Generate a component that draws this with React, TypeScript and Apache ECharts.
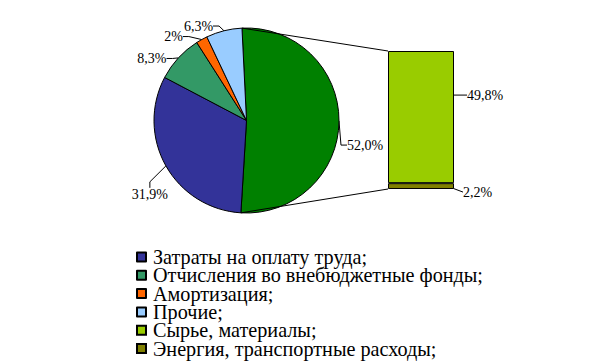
import React, { useEffect, useRef } from "react";
import * as echarts from "echarts";

// ---- data ----
const pieNames = [
  "Сырье, материалы и энергия",
  "Затраты на оплату труда;",
  "Отчисления во внебюджетные фонды;",
  "Амортизация;",
  "Прочие;",
];
const pieValues = [52.0, 31.9, 8.3, 2.0, 6.3];
const pieLabels = ["52,0%", "31,9%", "8,3%", "2%", "6,3%"];
const pieColors = ["#008000", "#333399", "#339966", "#FF6600", "#99CCFF"];

const barCategory = ["Сырье и энергия"];
const barNames = ["Энергия, транспортные расходы;", "Сырье, материалы;"];
const barValues = [2.2, 49.8];
const barLabels = ["2,2%", "49,8%"];
const barColors = ["#808000", "#99CC00"];

const legendOrder = [
  pieNames[1],
  pieNames[2],
  pieNames[3],
  pieNames[4],
  barNames[1],
  barNames[0],
];

// ---- layout (not data) ----
const PIE_CX = 246.5;
const PIE_CY = 120.5;
const PIE_R = 92.5;
const START_ANGLE = 92.8;
const pieLabelShift: [number, number][] = [
  [-11, 24],
  [20, 25],
  [5, 6],
  [-4, 4],
  [2, 3],
];
const barLabelShift: [number, number][] = [
  [4, 6],
  [8, -22],
];
const BAR_GRID = { left: 388, top: 51, width: 66, height: 138 };
const FONT = "'Liberation Serif', 'Times New Roman', serif";

const shifted = (shift: [number, number][]) => (p: any) => {
  const r = p.labelRect;
  const s = shift[p.dataIndex] || [0, 0];
  return { x: r.x + s[0], y: r.y + s[1], align: "left", verticalAlign: "top" };
};

export default function App() {
  const ref = useRef<HTMLDivElement>(null);
  useEffect(() => {
    if (!ref.current) return;
    const chart = echarts.init(ref.current, undefined, { renderer: "svg" });
    const barTotal = barValues.reduce((a, b) => a + b, 0);
    chart.setOption({
      animation: false,
      backgroundColor: "#fff",
      textStyle: { fontFamily: FONT },
      legend: {
        data: legendOrder,
        orient: "vertical",
        left: 136,
        top: 247,
        height: 200,
        padding: 0,
        itemWidth: 9,
        itemHeight: 9,
        itemGap: -1.7,
        icon: "rect",
        selectedMode: false,
        textStyle: {
          fontFamily: FONT,
          fontSize: 20.2,
          lineHeight: 18.7,
          color: "#000",
          padding: [0, 0, 0, 2],
        },
      },
      grid: { ...BAR_GRID },
      xAxis: { type: "category", data: barCategory, show: false },
      yAxis: { type: "value", min: 0, max: barTotal, show: false },
      series: [
        {
          type: "pie",
          center: [PIE_CX, PIE_CY],
          radius: PIE_R,
          startAngle: START_ANGLE,
          clockwise: true,
          avoidLabelOverlap: false,
          itemStyle: { borderColor: "#000", borderWidth: 1 },
          label: {
            show: true,
            position: "outside",
            formatter: (p: any) => pieLabels[p.dataIndex],
            color: "#000",
            fontFamily: FONT,
            fontSize: 14,
          },
          labelLine: {
            show: true,
            length: 8,
            length2: 6,
            lineStyle: { color: "#000", width: 1 },
          },
          labelLayout: shifted(pieLabelShift),
          emphasis: { disabled: true },
          data: pieValues.map((v, i) => ({
            name: pieNames[i],
            value: v,
            itemStyle: { color: pieColors[i] },
          })),
        },
        ...barValues.map((v, i) => ({
          type: "bar",
          name: barNames[i],
          stack: "total",
          barWidth: "100%",
          data: [v],
          itemStyle: { color: barColors[i], borderColor: "#000", borderWidth: 1 },
          label: {
            show: true,
            position: "right",
            formatter: () => barLabels[i],
            color: "#000",
            fontFamily: FONT,
            fontSize: 14,
          },
          labelLine: { show: true, lineStyle: { color: "#000", width: 1 } },
          labelLayout: (p: any) => {
            const r = p.labelRect;
            const s = barLabelShift[i];
            return { x: r.x + s[0], y: r.y + s[1], align: "left", verticalAlign: "top" };
          },
          emphasis: { disabled: true },
        })),
      ],
    });

    // connector lines from the big slice's edges to the bar's corners
    const total = pieValues.reduce((a, b) => a + b, 0);
    const a0 = (90 - START_ANGLE) * (Math.PI / 180); // clockwise from north
    const a1 = a0 + (pieValues[0] / total) * 2 * Math.PI;
    const pStart = [PIE_CX + PIE_R * Math.sin(a0), PIE_CY - PIE_R * Math.cos(a0)];
    const pEnd = [PIE_CX + PIE_R * Math.sin(a1), PIE_CY - PIE_R * Math.cos(a1)];
    const topPt = chart.convertToPixel({ xAxisIndex: 0, yAxisIndex: 0 }, [
      barCategory[0],
      barTotal,
    ]) as number[];
    const botPt = chart.convertToPixel({ xAxisIndex: 0, yAxisIndex: 0 }, [
      barCategory[0],
      0,
    ]) as number[];
    const half = BAR_GRID.width / 2;
    chart.setOption({
      graphic: [
        {
          type: "line",
          shape: { x1: pStart[0], y1: pStart[1], x2: topPt[0] - half, y2: topPt[1] },
          style: { stroke: "#000", lineWidth: 1 },
          z: 10,
        },
        {
          type: "line",
          shape: { x1: pEnd[0], y1: pEnd[1], x2: botPt[0] - half, y2: botPt[1] },
          style: { stroke: "#000", lineWidth: 1 },
          z: 10,
        },
      ],
    });
    return () => chart.dispose();
  }, []);
  return (
    <div
      ref={ref}
      style={{ position: "absolute", left: 0, top: 0, width: 615, height: 361 }}
    />
  );
}
